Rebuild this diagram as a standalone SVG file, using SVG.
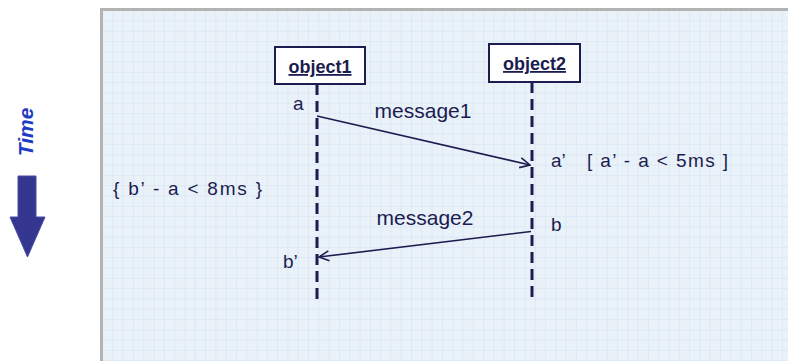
<svg xmlns="http://www.w3.org/2000/svg" width="788" height="361" viewBox="0 0 788 361">
  <defs>
    <pattern id="grid" x="103" y="11" width="10.3" height="10.3" patternUnits="userSpaceOnUse">
      <rect width="10.3" height="10.3" fill="#e9f1f9"/>
      <path d="M10.3 0V10.3M0 10.3H10.3" stroke="#d3e2f1" stroke-width="1" fill="none"/>
    </pattern>
    <marker id="open" viewBox="0 0 12 12" refX="11" refY="6" markerWidth="12" markerHeight="12" markerUnits="userSpaceOnUse" orient="auto">
      <path d="M1 1L11 6L1 11" fill="none" stroke="#1c1c50" stroke-width="1.6"/>
    </marker>
    <style>
      .lbl { font-family: "Liberation Sans", Arial, sans-serif; font-size: 19px; fill: #1c1c50; }
      .msg { font-family: "Liberation Sans", Arial, sans-serif; font-size: 21px; fill: #1c1c50; }
      .obj { font-family: "Liberation Sans", Arial, sans-serif; font-size: 18px; font-weight: bold; fill: #1c1c50; text-decoration: underline; }
      .box { fill: #ffffff; stroke: #1c1c50; stroke-width: 2; }
      .life { stroke: #1c1c50; stroke-width: 3; stroke-dasharray: 11 6; fill: none; }
      .edge { stroke: #1c1c50; stroke-width: 1.6; fill: none; marker-end: url(#open); }
    </style>
  </defs>

  <rect width="788" height="361" fill="#ffffff"/>

  <!-- grid panel with grey frame on the left and top -->
  <rect x="100" y="8" width="688" height="353" fill="#b3b3b3"/>
  <rect x="103" y="11" width="685" height="350" fill="url(#grid)"/>

  <!-- time axis -->
  <g id="time">
    <text x="0" y="0" transform="translate(33 132) rotate(-90)" text-anchor="middle" font-family="Liberation Sans, Arial, sans-serif" font-size="21" font-weight="bold" font-style="italic" fill="#1f3cc4">Time</text>
    <path d="M18 176H36V217H45L27.5 257L10 217H18Z" fill="#35368f" stroke="#4a4ba8" stroke-width="1"/>
  </g>

  <!-- lifelines -->
  <g id="lifelines">
    <line class="life" x1="317" y1="84" x2="317" y2="302"/>
    <line class="life" x1="532" y1="82" x2="532" y2="302"/>
  </g>

  <g id="object1">
    <rect class="box" x="275" y="47" width="90" height="37"/>
    <text class="obj" x="320" y="73" text-anchor="middle">object1</text>
  </g>

  <g id="object2">
    <rect class="box" x="489" y="44" width="91" height="38"/>
    <text class="obj" x="534.5" y="70" text-anchor="middle">object2</text>
  </g>

  <!-- messages -->
  <g id="connectors">
    <line class="edge" x1="317" y1="116" x2="530" y2="165"/>
    <line class="edge" x1="531" y1="231.5" x2="319" y2="257"/>
  </g>

  <g id="labels">
    <text class="msg" x="423" y="118" text-anchor="middle">message1</text>
    <text class="msg" x="425" y="225" text-anchor="middle">message2</text>
    <text class="lbl" x="293" y="110">a</text>
    <text class="lbl" x="551" y="167">a’</text>
    <text class="lbl" x="587" y="167" textLength="141" lengthAdjust="spacing">[ a’ - a &lt; 5ms ]</text>
    <text class="lbl" x="113" y="195" textLength="149" lengthAdjust="spacing">{ b’ - a &lt; 8ms }</text>
    <text class="lbl" x="551" y="231">b</text>
    <text class="lbl" x="283" y="268">b’</text>
  </g>
</svg>
